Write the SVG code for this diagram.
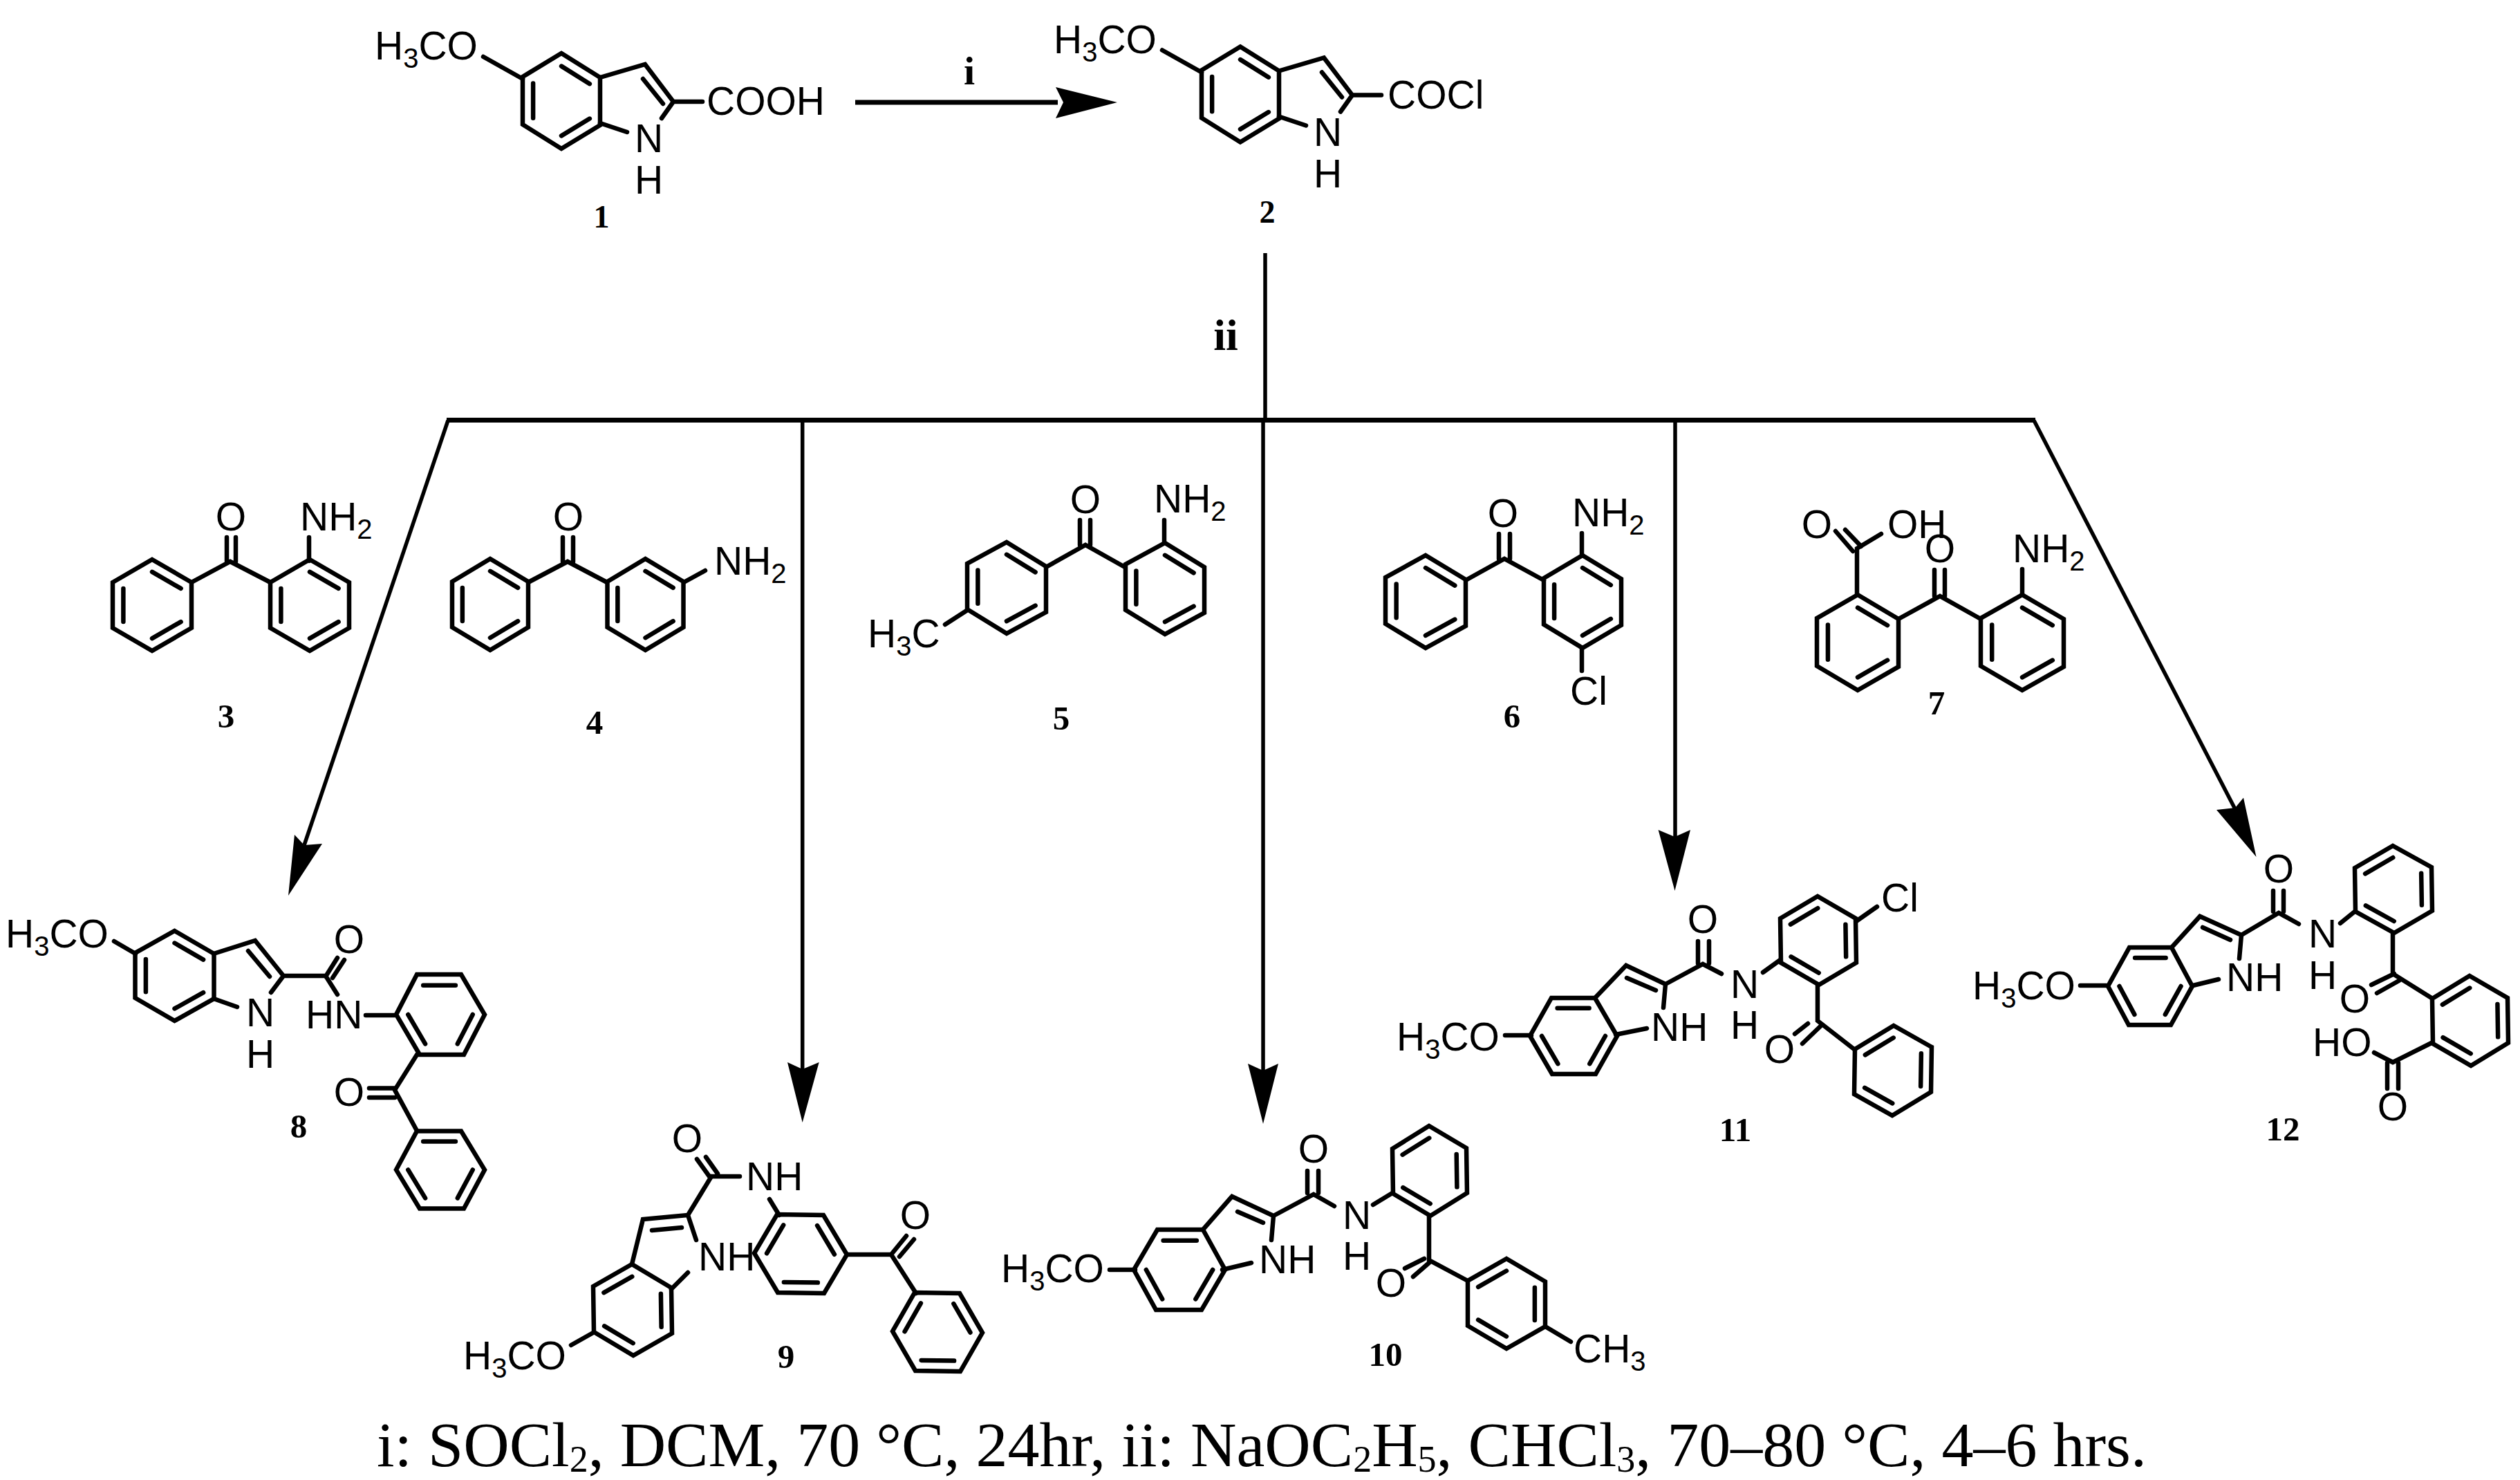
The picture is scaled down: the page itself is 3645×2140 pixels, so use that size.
<svg xmlns="http://www.w3.org/2000/svg" xmlns:xlink="http://www.w3.org/1999/xlink" width="3645" height="2140" viewBox="0 0 3645 2140">
<style>
.b{fill:none;stroke:#000;stroke-width:6.5;stroke-linecap:round;stroke-linejoin:miter}
.t{font-family:"Liberation Sans",Arial,sans-serif;font-size:57px;fill:#000}
.m{text-anchor:middle}
.u{font-size:40px}
.l{font-family:"Liberation Serif","Times New Roman",serif;font-weight:bold;font-size:49px;fill:#000;text-anchor:middle}
.c{font-family:"Liberation Serif","Times New Roman",serif;font-size:92px;fill:#000}
.s{font-size:54px}
.w{fill:none;stroke:#000;stroke-width:5.5}
.h{fill:#000;stroke:none}
</style>
<defs>
<path id="r" vector-effect="non-scaling-stroke" fill="none" stroke="#000" stroke-width="6.5" stroke-linecap="round" d="M1 0L0 1L-1 1L-1 0L0 -1L1 -1ZM.73 0L0 .73M-.73 .73L-.73 0M0 -.73L.73 -.73"/>
</defs>
<g id="connectors">
<path class="w" style="stroke-width:7" d="M1237 148H1530"/>
<polygon class="h" points="1616,148 1527,126 1538,148 1527,171"/>
<path class="w" d="M1830 366V606"/>
<path class="w" style="stroke-width:7" d="M646 607.5H2944"/>
<path class="w" d="M648 608L440 1222"/>
<polygon class="h" points="417,1295 466,1220 440,1222 426,1207"/>
<path class="w" d="M1160.7 608V1548"/>
<polygon class="h" points="1160.7,1623 1139,1536 1160.7,1546 1184.7,1536"/>
<path class="w" d="M1827 608V1550"/>
<polygon class="h" points="1827,1625 1805,1538 1827,1548 1849,1538"/>
<path class="w" d="M2423 608V1212"/>
<polygon class="h" points="2422.5,1288 2398.6,1200 2422.5,1210 2445,1200"/>
<path class="w" d="M2942 608L3233 1170"/>
<polygon class="h" points="3263.5,1239 3206,1171 3233,1168 3245,1153.6"/>
<text class="l" x="1402" y="122" style="font-size:58px">i</text>
<text class="l" x="1773" y="506" style="font-size:64px">ii</text>
</g>
<g id="compound-1">
<use href="#r" transform="matrix(0 -69 56 -34 812 146)"/>
<path class="b" d="M868 112L933 93L974 147L957 171M868 178L907 191M930 114L959 150M974 147H1016M756 114L699 82"/>
<text class="t" x="542" y="86">H<tspan class="u" dy="12">3</tspan><tspan dy="-12">CO</tspan></text>
<text class="t" x="1022" y="166">COOH</text>
<text class="t" x="918" y="220">N</text>
<text class="t" x="918" y="280">H</text>
<text class="l" x="870" y="329" style="font-size:46px">1</text>
</g>
<g id="compound-2">
<g transform="translate(982 -9.5)">
<use href="#r" transform="matrix(0 -69 56 -34 812 146)"/>
<path class="b" d="M868 112L933 93L974 147L957 171M868 178L907 191M930 114L959 150M974 147H1016M756 114L699 82"/>
<text class="t" x="542" y="86">H<tspan class="u" dy="12">3</tspan><tspan dy="-12">CO</tspan></text>
<text class="t" x="1025" y="166">COCl</text>
<text class="t" x="918" y="220">N</text>
<text class="t" x="918" y="280">H</text>
</g>
<text class="l" x="1833" y="322" style="font-size:46px">2</text>
</g>
<g id="compound-3">
<use href="#r" transform="matrix(0 -66 57 -33 220 875)"/>
<use href="#r" transform="matrix(0 -66 57 -33 448 875)"/>
<path class="b" d="M277 842L333 812L391 842M328 812V777M341 812V777M447 811V777"/>
<text class="t m" x="334" y="767">O</text>
<text class="t" x="434" y="767">NH<tspan class="u" dy="12">2</tspan></text>
<text class="l" x="327" y="1052">3</text>
</g>
<g id="compound-4">
<use href="#r" transform="matrix(0 -66 55 -33 709 874)"/>
<use href="#r" transform="matrix(0 -66 55 -33 933.5 874)"/>
<path class="b" d="M764 842L821 812L878 842M814 812V777M829 812V777M989 842L1020 825"/>
<text class="t m" x="822" y="767">O</text>
<text class="t" x="1033" y="831">NH<tspan class="u" dy="12">2</tspan></text>
<text class="l" x="860" y="1061">4</text>
</g>
<g id="compound-5">
<use href="#r" transform="matrix(0 -66 57 -31 1456 850)"/>
<use href="#r" transform="matrix(0 -66 57 -31 1685 851)"/>
<path class="b" d="M1513 820L1570 788L1627 820M1562 788V752M1577 788V752M1684 784V752M1398 883L1367 903"/>
<text class="t m" x="1570" y="742">O</text>
<text class="t" x="1669" y="741">NH<tspan class="u" dy="12">2</tspan></text>
<text class="t" x="1255" y="936">H<tspan class="u" dy="12">3</tspan><tspan dy="-12">C</tspan></text>
<text class="l" x="1535" y="1055">5</text>
</g>
<g id="compound-6">
<use href="#r" transform="matrix(0 -67 58 -32 2062 870)"/>
<use href="#r" transform="matrix(0 -67 56 -33 2289 870)"/>
<path class="b" d="M2120 839L2176 808L2233 839M2168 808V772M2184 808V772M2288 803V771M2288 936V970"/>
<text class="t m" x="2174" y="762">O</text>
<text class="t" x="2274" y="761">NH<tspan class="u" dy="12">2</tspan></text>
<text class="t" x="2271" y="1019">Cl</text>
<text class="l" x="2187" y="1052">6</text>
</g>
<g id="compound-7">
<use href="#r" transform="matrix(0 -69 59 -34 2687 929)"/>
<use href="#r" transform="matrix(0 -69 60 -34 2925 929)"/>
<path class="b" d="M2686 860V793L2721 772M2655 768L2680 797M2669 766L2692 790M2746 895L2806 862L2865 895M2798 862V824M2813 862V824M2925 860V823"/>
<text class="t m" x="2628" y="778">O</text>
<text class="t" x="2730" y="778">OH</text>
<text class="t m" x="2806" y="813">O</text>
<text class="t" x="2911" y="813">NH<tspan class="u" dy="12">2</tspan></text>
<text class="l" x="2801" y="1033">7</text>
</g>
<g id="compound-8">
<use href="#r" transform="matrix(0 -65 57 -32 252.5 1411)"/>
<use href="#r" transform="matrix(-34 -58 30 -58 637 1467)"/>
<use href="#r" transform="matrix(-34 -56 30 -56 637 1691.5)"/>
<path class="b" d="M165 1361L196 1379M309 1379L369 1360L410 1411L392 1435M309 1444L343 1456M359 1375L390 1412M410 1411H471L488 1438M471 1412L488 1385M481 1414L498 1388M529 1468H571M603 1525L571 1576L603 1635M571 1573.5H534M571 1587H534"/>
<text class="t" x="8" y="1370">H<tspan class="u" dy="12">3</tspan><tspan dy="-12">CO</tspan></text>
<text class="t m" x="505" y="1378">O</text>
<text class="t" x="442" y="1487">HN</text>
<text class="t" x="356" y="1484">N</text>
<text class="t" x="356" y="1544">H</text>
<text class="t m" x="505" y="1599">O</text>
<text class="l" x="432" y="1645">8</text>
</g>
<g id="compound-9">
<use href="#r" transform="matrix(-1 -66 -57 -34 915 1894)"/>
<use href="#r" transform="matrix(33 -56 67 1 1158 1813)"/>
<use href="#r" transform="matrix(32 -56 65 1 1356 1926)"/>
<path class="b" d="M1008 1676L1026 1701M1021 1673L1038 1697M1029 1701H1070M1029 1701L995 1757L930 1763L914 1828M943 1779L986 1775M995 1757L1007 1793M971 1864L995 1840M858 1927L826 1945M1113 1734L1127 1757M1225 1814H1289L1325 1870M1289 1814L1311 1787M1301 1817L1322 1792"/>
<text class="t m" x="994" y="1666">O</text>
<text class="t" x="1079" y="1721">NH</text>
<text class="t" x="1010" y="1837">NH</text>
<text class="t" x="670" y="1980">H<tspan class="u" dy="12">3</tspan><tspan dy="-12">CO</tspan></text>
<text class="t m" x="1324" y="1777">O</text>
<text class="l" x="1137" y="1978">9</text>
</g>
<g id="compound-10">
<use href="#r" transform="matrix(-32 -58 34 -58 1706 1836)"/>
<use href="#r" transform="matrix(-1 -65 -54 -32 2068 1693)"/>
<use href="#r" transform="matrix(0 -65 -56 -33 2179 1885)"/>
<path class="b" d="M1605 1836H1642M1740 1778L1782 1730L1842 1758L1839 1793M1768 1836L1810 1826M1790 1752L1827 1768M1842 1758L1900 1727L1930 1744M1891 1693V1725M1907 1693V1725M1986 1742L2014 1725M2067 1758V1822L2123 1852M2060 1820L2032 1834M2067 1826L2044 1846M2235 1918L2272 1940"/>
<text class="t" x="1448" y="1854">H<tspan class="u" dy="12">3</tspan><tspan dy="-12">CO</tspan></text>
<text class="t" x="1821" y="1841">NH</text>
<text class="t m" x="1900" y="1681">O</text>
<text class="t" x="1942" y="1777">N</text>
<text class="t" x="1942" y="1836">H</text>
<text class="t m" x="2012" y="1875">O</text>
<text class="t" x="2276" y="1970">CH<tspan class="u" dy="12">3</tspan></text>
<text class="l" x="2004" y="1975">10</text>
</g>
<g id="compound-11">
<use href="#r" transform="matrix(-32 -55 31 -55 2276 1498)"/>
<use href="#r" transform="matrix(-1 -64 -55 -32 2630 1360)"/>
<use href="#r" transform="matrix(1 -65 -55 -31 2738 1548)"/>
<path class="b" d="M2177 1497H2215M2307 1443L2352 1396L2409 1423L2406 1457M2337 1496L2382 1487M2353 1414L2395 1432M2409 1423L2463 1394L2490 1408M2456 1361V1393M2472 1361V1393M2550 1406L2575 1388M2685 1332L2715 1311M2629 1423V1476L2683 1518M2615 1480L2596 1495M2633 1484L2607 1509"/>
<text class="t" x="2020" y="1519">H<tspan class="u" dy="12">3</tspan><tspan dy="-12">CO</tspan></text>
<text class="t" x="2388" y="1505">NH</text>
<text class="t m" x="2463" y="1349">O</text>
<text class="t" x="2503" y="1443">N</text>
<text class="t" x="2503" y="1502">H</text>
<text class="t" x="2721" y="1318">Cl</text>
<text class="t m" x="2574" y="1537">O</text>
<text class="l" x="2510" y="1650">11</text>
</g>
<g id="compound-12">
<use href="#r" transform="matrix(-30 -56 31 -56 3110 1426)"/>
<use href="#r" transform="matrix(-1 -63 -56 -31 3462 1286)"/>
<use href="#r" transform="matrix(-1 -65 -55 -32 3573 1476)"/>
<path class="b" d="M3009 1425H3047M3141 1370L3182 1325L3242 1352L3239 1386M3172 1425L3209 1416M3186 1341L3226 1359M3242 1352L3296 1320L3325 1336M3288 1288V1318M3303 1288V1318M3385 1335L3406 1318M3461 1350V1408L3517 1443M3463 1408L3430 1424M3470 1418L3438 1436M3517 1508L3461 1536L3434 1522M3453 1537V1574M3469 1537V1574"/>
<text class="t" x="2853" y="1445">H<tspan class="u" dy="12">3</tspan><tspan dy="-12">CO</tspan></text>
<text class="t" x="3220" y="1433">NH</text>
<text class="t m" x="3296" y="1276">O</text>
<text class="t" x="3339" y="1370">N</text>
<text class="t" x="3339" y="1430">H</text>
<text class="t m" x="3406" y="1464">O</text>
<text class="t" x="3345" y="1527">HO</text>
<text class="t m" x="3461" y="1620">O</text>
<text class="l" x="3302" y="1649">12</text>
</g>
<text id="caption" class="c" x="545" y="2120">i: SOCl<tspan class="s" dy="8">2</tspan><tspan dy="-8">, DCM, 70 °C, 24hr, ii: NaOC</tspan><tspan class="s" dy="8">2</tspan><tspan dy="-8">H</tspan><tspan class="s" dy="8">5</tspan><tspan dy="-8">, CHCl</tspan><tspan class="s" dy="8">3</tspan><tspan dy="-8">, 70–80 °C, 4–6 hrs.</tspan></text>
</svg>
